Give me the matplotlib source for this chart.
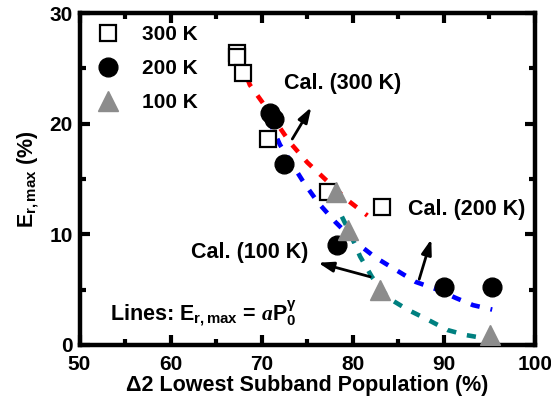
import matplotlib
matplotlib.use("Agg")
import matplotlib.pyplot as plt
from matplotlib.ticker import MultipleLocator

plt.rcParams['font.family'] = ['Liberation Sans', 'DejaVu Sans']
plt.rcParams['font.weight'] = 'bold'
plt.rcParams['mathtext.fontset'] = 'custom'
plt.rcParams['mathtext.rm'] = 'Liberation Sans:bold'
plt.rcParams['mathtext.bf'] = 'Liberation Sans:bold'
plt.rcParams['mathtext.it'] = 'Liberation Serif:italic'

# measured data
x300 = [67.3, 67.3, 68.0, 70.7, 77.3, 83.2]
y300 = [26.4, 26.0, 24.6, 18.6, 13.8, 12.5]
x200 = [70.9, 71.3, 72.4, 78.3, 90.0, 95.3]
y200 = [21.0, 20.4, 16.4, 9.0, 5.2, 5.2]
x100 = [78.1, 79.5, 83.0, 95.1]
y100 = [13.8, 10.4, 5.0, 0.9]

# calculated curves
cx300 = [67.6, 68.7, 70.1, 73.1, 75.0, 77.2, 79.4, 81.6]
cy300 = [25.8, 23.5, 21.9, 18.3, 16.5, 14.8, 13.1, 11.7]
cx200 = [70.8, 72.0, 74.6, 76.2, 78.1, 80.3, 82.5, 84.7, 86.9, 89.3, 91.3, 93.2, 95.3]
cy200 = [20.3, 18.1, 14.7, 12.85, 11.1, 9.3, 7.9, 6.8, 5.7, 5.0, 4.25, 3.6, 3.2]
cx100 = [78.8, 79.7, 80.8, 82.1, 83.9, 86.0, 88.2, 90.4, 92.4, 94.3, 96.8]
cy100 = [11.6, 10.1, 8.0, 6.15, 4.25, 3.2, 2.3, 1.35, 0.9, 0.63, 0.27]

fig = plt.figure(figsize=(5.51, 4.09), dpi=100)
ax = fig.add_axes([0.1443, 0.1565, 0.8267, 0.8117])

dash = (0, (2.0, 2.4))
ax.plot(cx300, cy300, color='#ff0000', lw=3.3, linestyle=dash, zorder=2)
ax.plot(cx200, cy200, color='#0000ff', lw=3.3, linestyle=dash, zorder=2)
ax.plot(cx100, cy100, color='#008080', lw=3.3, linestyle=dash, zorder=2)

ax.plot(x300, y300, 's', ms=11, mfc='white', mec='black', mew=1.6, ls='none', zorder=3, label='300 K')
ax.plot(x200, y200, 'o', ms=13.5, mfc='black', mec='black', ls='none', zorder=3, label='200 K')
ax.plot(x100, y100, '^', ms=15, mfc='#8c8c8c', mec='#8c8c8c', ls='none', zorder=4, label='100 K')

ax.set_xlim(50, 100)
ax.set_ylim(0, 30)
ax.xaxis.set_major_locator(MultipleLocator(10))
ax.xaxis.set_minor_locator(MultipleLocator(5))
ax.yaxis.set_major_locator(MultipleLocator(10))
ax.yaxis.set_minor_locator(MultipleLocator(5))
ax.tick_params(which='both', direction='in', top=True, right=True, width=3, labelsize=15)
ax.tick_params(axis='x', pad=7)
ax.tick_params(axis='y', pad=5)
ax.tick_params(which='major', length=7)
ax.tick_params(which='minor', length=4)
for s in ax.spines.values():
    s.set_linewidth(3.2)
for lab in ax.get_xticklabels() + ax.get_yticklabels():
    lab.set_fontweight('bold')

ax.set_xlabel('\u03942 Lowest Subband Population (%)', fontsize=15.5, fontweight='bold', labelpad=1)
ax.set_ylabel(r'E$_{\mathregular{r,max}}$ (%)', fontsize=15.5, fontweight='bold', labelpad=6)

leg = ax.legend(loc='upper left', bbox_to_anchor=(0.013, 0.995), frameon=False, fontsize=15,
                handletextpad=1.0, labelspacing=0.72, borderaxespad=0.1, handlelength=1.2)
for t in leg.get_texts():
    t.set_fontweight('bold')

fs = 15.5
ax.text(72.4, 23.6, 'Cal. (300 K)', fontsize=fs, fontweight='bold', va='center', ha='left')
ax.annotate('', xy=(75.6, 21.7), xytext=(73.2, 18.4),
            arrowprops=dict(arrowstyle='-|>,head_width=0.3,head_length=0.9', color='black', lw=2))
ax.text(86.1, 12.2, 'Cal. (200 K)', fontsize=fs, fontweight='bold', va='center', ha='left')
ax.annotate('', xy=(88.7, 9.8), xytext=(87.2, 5.7),
            arrowprops=dict(arrowstyle='-|>,head_width=0.3,head_length=0.9', color='black', lw=2))
ax.text(62.2, 8.4, 'Cal. (100 K)', fontsize=fs, fontweight='bold', va='center', ha='left')
ax.annotate('', xy=(75.9, 7.5), xytext=(82.2, 6.1),
            arrowprops=dict(arrowstyle='-|>,head_width=0.3,head_length=0.9', color='black', lw=2))
ax.text(53.3, 2.9, r'Lines: E$_{\mathregular{r,max}}$ = $\mathit{a}$P$_{\mathregular{0}}^{\mathregular{\gamma}}$',
        fontsize=fs, fontweight='bold', va='center', ha='left')

fig.savefig('out.png', dpi=100)
